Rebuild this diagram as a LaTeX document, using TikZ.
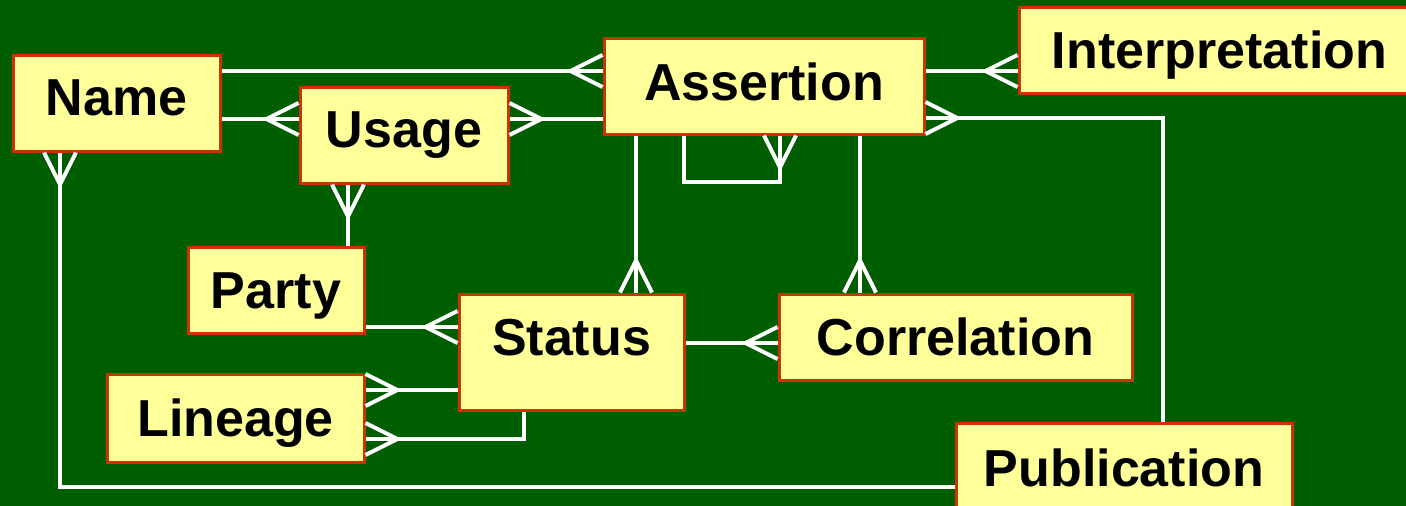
\documentclass[tikz,border=0pt]{standalone}
\usepackage{fontspec}
\setmainfont{Liberation Sans}
\usetikzlibrary{decorations.markings}
\definecolor{bggreen}{RGB}{0,94,0}
\definecolor{boxfill}{RGB}{255,255,153}
\definecolor{boxline}{RGB}{204,51,0}
\tikzset{
  entity/.style={draw=boxline, fill=boxfill, line width=3pt, inner sep=0pt,
    text height=37pt, text depth=0pt, minimum height=96pt,
    font=\fontsize{52}{60}\selectfont\bfseries},
  conn/.style={draw=white, line width=4pt},
  crowend/.style={postaction={decorate, decoration={markings,
    mark=at position 1 with {\draw[white, line width=4pt] (0,16pt) -- (-32pt,0) -- (0,-16pt);}}}},
  crowstart/.style={postaction={decorate, decoration={markings,
    mark=at position 0 with {\draw[white, line width=4pt] (0,16pt) -- (32pt,0) -- (0,-16pt);}}}},
}
\begin{document}
\begin{tikzpicture}[x=1pt, y=-1pt]
  \useasboundingbox (0,0) rectangle (1406,506);
  \fill[bggreen] (0,0) rectangle (1406,506);

  \node[entity, minimum width=207pt, text depth=13pt] (Name) at (116.5,103) {Name};
  \node[entity, minimum width=208pt, text depth=12pt] (Usage) at (404,135) {Usage};
  \node[entity, minimum width=320pt, text depth=8pt] (Assertion) at (764,86) {Assertion};
  \node[entity, minimum width=401pt, minimum height=86pt] (Interpretation) at (1219.5,50) {Interpretation};
  \node[entity, minimum width=176pt, minimum height=86pt] (Party) at (276,290) {Party};
  \node[entity, minimum width=225pt, minimum height=116pt, text depth=30pt] (Status) at (571.5,352) {Status};
  \node[entity, minimum width=353pt, minimum height=86pt] (Correlation) at (955.5,337) {Correlation};
  \node[entity, minimum width=257pt, minimum height=88pt] (Lineage) at (235.5,418) {Lineage};
  \node[entity, minimum width=336pt, minimum height=89pt] (Publication) at (1124,467.5) {Publication};

  % connectors
  \draw[conn, crowend] (Name.east |- 0,71) -- (Assertion.west |- 0,71);
  \draw[conn, crowend] (Name.east |- 0,119) -- (Usage.west |- 0,119);
  \draw[conn, crowstart] (Usage.east |- 0,119) -- (Assertion.west |- 0,119);
  \draw[conn, crowend] (Assertion.east |- 0,71) -- (Interpretation.west |- 0,71);
  \draw[conn, crowstart] (Assertion.east |- 0,118) -| (Publication.north -| 1163,0);
  \draw[conn, crowend] (Assertion.south -| 684,0) -- (684,182) -- (780,182) -- (Assertion.south -| 780,0);
  \draw[conn, crowend] (Assertion.south -| 636,0) -- (Status.north -| 636,0);
  \draw[conn, crowend] (Assertion.south -| 860,0) -- (Correlation.north -| 860,0);
  \draw[conn, crowend] (Party.north -| 348,0) -- (Usage.south -| 348,0);
  \draw[conn, crowend] (Party.east |- 0,327) -- (Status.west |- 0,327);
  \draw[conn, crowend] (Status.west |- 0,390) -- (Lineage.east |- 0,390);
  \draw[conn, crowend] (Status.south -| 524,0) |- (Lineage.east |- 0,439);
  \draw[conn, crowend] (Status.east |- 0,343) -- (Correlation.west |- 0,343);
  \draw[conn, crowstart] (Name.south -| 60,0) |- (Publication.west |- 0,487);
\end{tikzpicture}
\end{document}
